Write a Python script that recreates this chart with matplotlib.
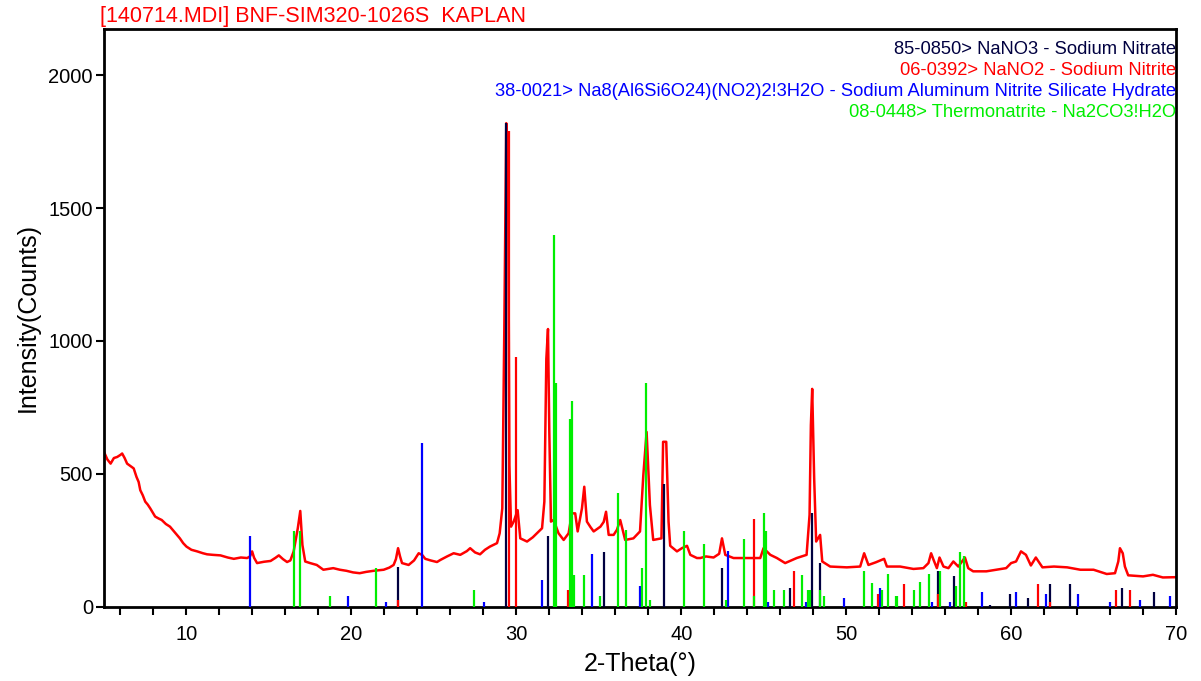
import matplotlib

matplotlib.use("Agg")
import matplotlib.pyplot as plt
from matplotlib.ticker import MultipleLocator

plt.rcParams["font.family"] = ["Liberation Sans", "DejaVu Sans"]

scan_2theta = [
    5.0, 5.2, 5.4, 5.6, 5.8, 6.0, 6.1, 6.25, 6.4, 6.6, 6.8, 6.97, 7.1, 7.2, 7.35,
    7.5, 7.65, 7.8, 8.1, 8.3, 8.5, 8.75, 9.0, 9.3, 9.6, 9.8, 10.0, 10.3, 10.65,
    11.0, 11.25, 11.6, 12.06, 12.5, 12.87, 13.3, 13.68, 13.85, 13.98, 14.1, 14.28,
    14.7, 15.1, 15.4, 15.6, 15.85, 16.1, 16.3, 16.5, 16.75, 16.9, 17.03, 17.2,
    17.5, 17.9, 18.3, 18.9, 19.3, 19.7, 20.1, 20.5, 20.9, 21.35, 21.96, 22.3,
    22.56, 22.7, 22.83, 22.95, 23.07, 23.47, 23.8, 24.08, 24.3, 24.48, 24.8,
    25.19, 25.4, 25.8, 26.2, 26.6, 27.0, 27.2, 27.5, 27.8, 28.1, 28.4, 28.83,
    28.99, 29.15, 29.27, 29.39, 29.5, 29.58, 29.68, 29.84, 30.08, 30.24, 30.65,
    31.0, 31.25, 31.56, 31.7, 31.82, 31.92, 32.0, 32.1, 32.26, 32.56, 32.87,
    33.17, 33.37, 33.57, 33.72, 33.98, 34.12, 34.28, 34.5, 34.69, 35.1, 35.3,
    35.44, 35.6, 35.9, 36.1, 36.3, 36.6, 37.1, 37.5, 37.7, 37.9, 38.1, 38.3,
    38.8, 38.9, 39.09, 39.23, 39.33, 39.74, 40.04, 40.35, 40.55, 40.95, 41.15,
    41.5, 41.96, 42.3, 42.47, 42.67, 43.17, 43.98, 44.79, 44.99, 45.4, 45.8,
    46.3, 47.0, 47.6, 47.78, 47.86, 47.94, 48.06, 48.18, 48.42, 48.55, 49.03,
    50.04, 50.85, 51.09, 51.35, 51.8, 52.3, 52.47, 53.27, 54.08, 54.68, 54.99,
    55.15, 55.3, 55.5, 55.66, 55.9, 56.2, 56.5, 56.8, 57.2, 57.4, 57.7, 58.5,
    59.1, 59.7, 60.0, 60.3, 60.6, 60.9, 61.2, 61.5, 61.9, 62.6, 63.4, 64.2,
    65.0, 65.8, 66.3, 66.5, 66.6, 66.77, 66.9, 67.1, 68.0, 68.6, 69.2, 69.97,
]
scan_counts = [
    583, 555, 539, 560, 564, 572, 577, 560, 539, 530, 521, 489, 470, 439, 420,
    396, 385, 371, 340, 333, 327, 312, 302, 280, 258, 240, 227, 215, 209,
    202, 198, 196, 194, 186, 181, 186, 184, 190, 209, 185, 165,
    170, 173, 185, 194, 180, 169, 175, 209, 296, 361, 233, 171,
    165, 158, 140, 146, 140, 136, 130, 127, 132, 136, 140, 148,
    158, 180, 221, 190, 165, 158, 175, 202, 195, 181, 175,
    169, 177, 190, 202, 196, 210, 221, 205, 198, 215, 227, 240,
    277, 371, 1034, 1819, 1656, 533, 302, 321, 364, 258, 246,
    262, 277, 296, 396, 933, 1045, 658, 321, 327, 277, 252,
    277, 352, 352, 284, 371, 452, 321, 300, 284, 302, 320,
    358, 271, 271, 290, 327, 252, 258, 284, 495, 658, 383, 252,
    258, 621, 621, 321, 230, 209, 221, 230, 196, 184, 184,
    190, 186, 200, 258, 196, 184, 184, 184, 221, 196, 184,
    165, 184, 196, 346, 683, 820, 483, 246, 271, 171, 152,
    149, 152, 202, 158, 168, 181, 152, 152, 143, 146, 165,
    202, 177, 146, 186, 152, 146, 171, 152, 186, 146, 134, 134,
    140, 146, 165, 171, 209, 196, 156, 186, 149, 152, 149, 140,
    140, 124, 127, 171, 221, 202, 152, 119, 115, 121, 111, 112,
]

# reference stick patterns
nano3_pos = [22.83, 29.39, 31.92, 35.33, 38.97, 42.49, 46.6, 47.94, 48.42, 55.58,
             56.55, 58.72, 59.94, 61.03, 62.36, 63.58, 66.73, 68.67]
nano3_int = [150, 1819, 265, 206, 461, 146, 70, 355, 167, 136,
             115, 9, 49, 34, 86, 86, 71, 55]

sanhs_pos = [13.88, 19.82, 22.12, 24.3, 28.04, 31.56, 34.58, 37.52, 42.82, 45.27,
             47.58, 49.88, 52.06, 55.2, 56.3, 58.24, 60.3, 62.12, 64.06, 66.0,
             67.82, 69.64]
sanhs_int = [265, 40, 19, 617, 19, 100, 198, 79, 212, 18,
             18, 32, 70, 19, 19, 55, 55, 47, 47, 19,
             26, 40]

nano2_pos = [22.83, 29.58, 29.98, 33.12, 44.4, 46.85, 51.94, 53.5, 55.58, 57.27,
             61.64, 62.36, 66.36, 67.2]
nano2_int = [27, 1790, 939, 64, 332, 137, 47, 86, 49, 19,
             86, 19, 62, 62]

thermo_pos = [16.55, 16.91, 18.73, 21.52, 27.44, 32.3, 32.4, 33.24, 33.36, 33.48,
              34.1, 35.06, 36.15, 36.67, 37.62, 37.84, 38.1, 40.18, 41.4, 42.7,
              43.79, 44.4, 45.0, 45.15, 45.64, 46.24, 47.33, 47.7, 47.8, 48.42,
              48.67, 51.09, 51.58, 52.18, 52.55, 53.0, 53.1, 54.1, 54.45, 55.05,
              55.7, 56.67, 56.9, 57.15]
thermo_int = [287, 287, 40, 145, 64, 1397, 841, 708, 775, 121,
              121, 40, 430, 289, 146, 841, 26, 287, 235, 26,
              257, 40, 355, 287, 62, 62, 122, 62, 62, 62,
              40, 137, 92, 62, 124, 40, 40, 62, 94, 124,
              136, 77, 206, 190]

title = "[140714.MDI] BNF-SIM320-1026S  KAPLAN"
legend_labels = [
    "85-0850> NaNO3 - Sodium Nitrate",
    "06-0392> NaNO2 - Sodium Nitrite",
    "38-0021> Na8(Al6Si6O24)(NO2)2!3H2O - Sodium Aluminum Nitrite Silicate Hydrate",
    "08-0448> Thermonatrite - Na2CO3!H2O",
]

NAVY = "#000040"
RED = "#ff0000"
BLUE = "#0000ff"
GREEN = "#00ee00"

fig = plt.figure(figsize=(12.01, 6.81), dpi=100)
ax = fig.add_axes([0.0866, 0.1087, 0.8926, 0.8487])

ax.plot(scan_2theta, scan_counts, color=RED, lw=1.8, zorder=2)

stick_sets = [
    (nano3_pos, nano3_int, NAVY),
    (sanhs_pos, sanhs_int, BLUE),
    (nano2_pos, nano2_int, RED),
    (thermo_pos, thermo_int, GREEN),
]
for i, (pos, inten, col) in enumerate(stick_sets):
    ax.vlines(pos, 0, inten, colors=col, lw=1.6, zorder=3 + i)

ax.set_xlim(5, 70)
ax.set_ylim(0, 2173)
ax.xaxis.set_major_locator(MultipleLocator(10))
ax.xaxis.set_minor_locator(MultipleLocator(2))
ax.yaxis.set_major_locator(MultipleLocator(500))
ax.tick_params(axis="both", which="both", direction="out", width=1.5, length=6,
               labelsize=14.5, color="black")
ax.tick_params(axis="x", which="major", pad=7)
ax.tick_params(axis="y", which="major", pad=2)
for sp in ax.spines.values():
    sp.set_linewidth(2)

fig.canvas.draw()
ylabels = ax.get_yticklabels()
ylabels[0].set_verticalalignment("bottom")

ax.set_xlabel("2-Theta(°)", fontsize=18, labelpad=6)
ax.set_ylabel("Intensity(Counts)", fontsize=18, labelpad=6)

fig.text(0.0833, 0.976, title, color=RED, fontsize=15.5, ha="left", va="center")

legend_colors = [NAVY, RED, BLUE, GREEN]
for k, (lab, col) in enumerate(zip(legend_labels, legend_colors)):
    ax.text(1.0005, 0.964 - k * 0.0362, lab, transform=ax.transAxes, color=col,
            fontsize=13.2, ha="right", va="center", zorder=10)

fig.savefig("out.png", dpi=100)
